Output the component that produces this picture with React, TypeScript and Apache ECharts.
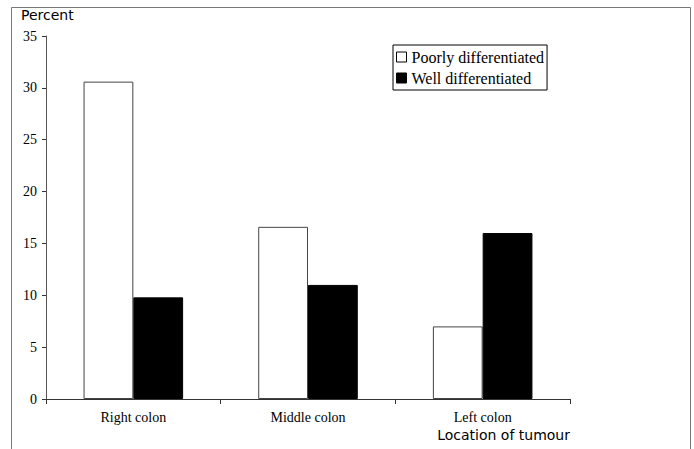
import React, { useEffect, useRef } from "react";
import * as echarts from "echarts";

const categories = ["Right colon", "Middle colon", "Left colon"];
const poorlyValues = [30.6, 16.6, 7.0];
const wellValues = [9.8, 11.0, 16.0];
const seriesNames = ["Poorly differentiated", "Well differentiated"];
const yTicks = { min: 0, max: 35, interval: 5 };
const yAxisTitle = "Percent";
const xAxisTitle = "Location of tumour";

export default function App() {
  const ref = useRef<HTMLDivElement>(null);
  useEffect(() => {
    if (!ref.current) return;
    const chart = echarts.init(ref.current, undefined, { renderer: "svg" });
    const serif = "Liberation Serif";
    chart.setOption({
      animation: false,
      backgroundColor: "#fff",
      textStyle: { fontFamily: serif },
      grid: { left: 46, right: 124, top: 36, bottom: 50, containLabel: false },
      legend: {
        orient: "vertical",
        left: 393,
        top: 45,
        itemWidth: 10,
        itemHeight: 10,
        itemGap: 3,
        icon: "rect",
        padding: [3, 3, 3, 3],
        borderColor: "#000",
        borderWidth: 1,
        textStyle: { fontFamily: serif, fontSize: 16, color: "#000", lineHeight: 18 },
        data: [
          { name: seriesNames[0], itemStyle: { color: "#fff", borderColor: "#000", borderWidth: 1 } },
          { name: seriesNames[1], itemStyle: { color: "#000", borderColor: "#000", borderWidth: 1 } },
        ],
      },
      xAxis: {
        type: "category",
        data: categories,
        axisLine: { lineStyle: { color: "#333", width: 1 } },
        axisTick: { show: true, length: 5, lineStyle: { color: "#333" } },
        axisLabel: { fontFamily: serif, fontSize: 14, color: "#000", margin: 11 },
      },
      yAxis: {
        type: "value",
        min: yTicks.min,
        max: yTicks.max,
        interval: yTicks.interval,
        axisLine: { show: true, lineStyle: { color: "#555", width: 1 } },
        axisTick: { show: true, length: 4, lineStyle: { color: "#333" } },
        axisLabel: { fontFamily: serif, fontSize: 14, color: "#000", margin: 9 },
        splitLine: { show: false },
      },
      series: [
        {
          name: seriesNames[0],
          type: "bar",
          data: poorlyValues,
          barGap: "0%",
          barCategoryGap: "43%",
          itemStyle: { color: "#fff", borderColor: "#444", borderWidth: 1 },
        },
        {
          name: seriesNames[1],
          type: "bar",
          data: wellValues,
          barGap: "0%",
          barCategoryGap: "43%",
          itemStyle: { color: "#000", borderColor: "#000", borderWidth: 1 },
        },
      ],
      graphic: [
        {
          type: "polyline",
          shape: { points: [[11.5, 449], [11.5, 7.5], [690.5, 7.5], [690.5, 449]] },
          style: { stroke: "#777", lineWidth: 1, fill: "none" },
          silent: true,
        },
        {
          type: "text",
          left: 21,
          top: 8,
          style: { text: yAxisTitle, fontFamily: "DejaVu Sans", fontSize: 14, fill: "#000" },
        },
        {
          type: "text",
          right: 124,
          top: 428,
          style: { text: xAxisTitle, fontFamily: "DejaVu Sans", fontSize: 14, fill: "#000" },
        },
      ],
    });
    return () => chart.dispose();
  }, []);
  return (
    <div
      ref={ref}
      style={{ position: "fixed", left: 0, top: 0, width: 694, height: 449 }}
    />
  );
}
